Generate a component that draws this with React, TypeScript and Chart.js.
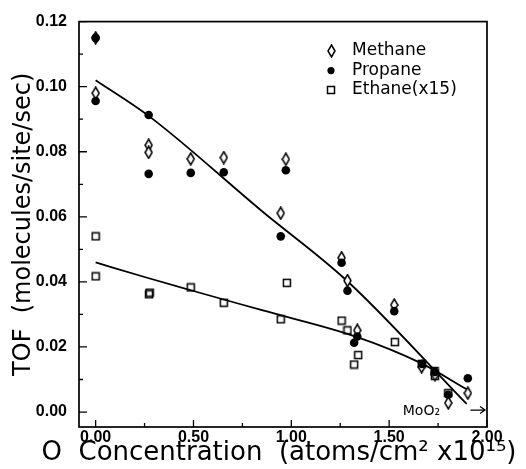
import React, { useEffect, useRef } from 'react';
import { Chart, registerables } from 'chart.js';

Chart.register(...registerables);

// ---- data ----
const methaneX = [0, 0, 0.271, 0.271, 0.486, 0.655, 0.946, 0.972, 1.257, 1.287, 1.337, 1.526, 1.666, 1.734, 1.802, 1.902];
const methaneY = [0.115, 0.098, 0.082, 0.0798, 0.0778, 0.0782, 0.0611, 0.0777, 0.0474, 0.0404, 0.0251, 0.0329, 0.0139, 0.0115, 0.0028, 0.0058];

const propaneX = [0, 0, 0.271, 0.271, 0.486, 0.655, 0.946, 0.972, 1.257, 1.287, 1.321, 1.337, 1.526, 1.668, 1.734, 1.802, 1.902];
const propaneY = [0.115, 0.0956, 0.0913, 0.0732, 0.0735, 0.0737, 0.054, 0.0743, 0.0459, 0.0373, 0.0213, 0.0232, 0.031, 0.0148, 0.0123, 0.0053, 0.0104];

const ethaneX = [0, 0, 0.273, 0.276, 0.486, 0.655, 0.946, 0.977, 1.257, 1.287, 1.321, 1.342, 1.529, 1.667, 1.732, 1.734, 1.802];
const ethaneY = [0.054, 0.0417, 0.0362, 0.0367, 0.0383, 0.0336, 0.0285, 0.0397, 0.0281, 0.0251, 0.0146, 0.0175, 0.0215, 0.0148, 0.0126, 0.0111, 0.0058];

// hand-drawn fit lines
const fitUpperX = [0, 0.276, 0.849, 1.287, 1.896];
const fitUpperY = [0.102, 0.0908, 0.0618, 0.0402, 0.0025];
const fitLowerX = [0, 0.25, 0.5, 0.85, 1.33, 1.66, 1.896];
const fitLowerY = [0.046, 0.0415, 0.0372, 0.0313, 0.0232, 0.0151, 0.007];

// axes
const xMin = -0.085;
const xMax = 2.0;
const yMin = -0.0046;
const yMax = 0.12;
const xMajorTicks = [0, 0.5, 1.0, 1.5, 2.0];
const xMinorTicks = [0.25, 0.75, 1.25, 1.75];
const yMajorTicks = [0, 0.02, 0.04, 0.06, 0.08, 0.1, 0.12];
const yMinorTicks = [0.01, 0.03, 0.05, 0.07, 0.09, 0.11];

const legendLabels = ['Methane', 'Propane', 'Ethane(x15)'];
const xTitle = 'O  Concentration  (atoms/cm² x10¹⁵)';
const yTitle = 'TOF  (molecules/site/sec)';
const noteText = 'MoO₂';
const noteX = 1.76;
const noteY = 0.0003;
const arrowX = [1.915, 1.99];
const arrowY = 0.0006;

function pts(xs: number[], ys: number[]) {
  return xs.map((x, i) => ({ x, y: ys[i] }));
}

function makeDiamond(): HTMLCanvasElement {
  const c = document.createElement('canvas');
  c.width = 9;
  c.height = 14;
  const g = c.getContext('2d')!;
  g.lineWidth = 1.5;
  g.strokeStyle = '#000';
  g.fillStyle = '#fff';
  g.beginPath();
  g.moveTo(4.5, 1);
  g.lineTo(8, 7);
  g.lineTo(4.5, 13);
  g.lineTo(1, 7);
  g.closePath();
  g.fill();
  g.stroke();
  return c;
}

function makeSquare(): HTMLCanvasElement {
  const c = document.createElement('canvas');
  c.width = 10;
  c.height = 10;
  const g = c.getContext('2d')!;
  g.lineWidth = 1.5;
  g.strokeStyle = '#000';
  g.strokeRect(1.5, 1.5, 7, 7);
  return c;
}

export default function App() {
  const ref = useRef<HTMLCanvasElement>(null);

  useEffect(() => {
    const diamond = makeDiamond();
    const square = makeSquare();

    const framePlugin = {
      id: 'frame',
      afterDatasetsDraw(chart: any) {
        const { ctx, chartArea: a, scales } = chart;
        const xs = scales.x;
        const ys = scales.y;
        ctx.save();
        ctx.strokeStyle = '#000';
        ctx.lineWidth = 1.7;
        ctx.strokeRect(a.left, a.top, a.right - a.left, a.bottom - a.top);
        ctx.lineWidth = 1.3;
        ctx.beginPath();
        xMajorTicks.forEach((v) => {
          const p = xs.getPixelForValue(v);
          ctx.moveTo(p, a.bottom);
          ctx.lineTo(p, a.bottom - 7);
        });
        xMinorTicks.forEach((v) => {
          const p = xs.getPixelForValue(v);
          ctx.moveTo(p, a.bottom);
          ctx.lineTo(p, a.bottom - 4);
        });
        yMajorTicks.forEach((v) => {
          const p = ys.getPixelForValue(v);
          ctx.moveTo(a.left, p);
          ctx.lineTo(a.left + 8, p);
        });
        yMinorTicks.forEach((v) => {
          const p = ys.getPixelForValue(v);
          ctx.moveTo(a.left, p);
          ctx.lineTo(a.left + 4, p);
        });
        ctx.stroke();

        // legend
        const mx = a.right - 156;
        const tx = a.right - 135;
        const rows = [a.top + 29, a.top + 49, a.top + 68];
        ctx.drawImage(diamond, Math.round(mx - diamond.width / 2), Math.round(rows[0] - diamond.height / 2));
        ctx.fillStyle = '#000';
        ctx.beginPath();
        ctx.arc(mx, rows[1], 3.6, 0, Math.PI * 2);
        ctx.fill();
        ctx.drawImage(square, Math.round(mx - square.width / 2), Math.round(rows[2] - square.height / 2));
        ctx.font = '17px "DejaVu Sans"';
        ctx.textBaseline = 'middle';
        ctx.textAlign = 'left';
        legendLabels.forEach((t, i) => ctx.fillText(t, tx, rows[i]));

        // MoO2 note and arrow
        ctx.font = '14px "DejaVu Sans"';
        ctx.textAlign = 'right';
        ctx.fillText(noteText, xs.getPixelForValue(noteX), ys.getPixelForValue(noteY));
        const ax0 = xs.getPixelForValue(arrowX[0]);
        const ax1 = xs.getPixelForValue(arrowX[1]);
        const ay = ys.getPixelForValue(arrowY);
        ctx.lineWidth = 1.2;
        ctx.beginPath();
        ctx.moveTo(ax0, ay);
        ctx.lineTo(ax1, ay);
        ctx.moveTo(ax1 - 5, ay - 3.5);
        ctx.lineTo(ax1, ay);
        ctx.lineTo(ax1 - 5, ay + 3.5);
        ctx.stroke();

        // x axis title (drawn here so it is not squeezed to the axis width)
        ctx.font = '26px "DejaVu Sans"';
        ctx.textAlign = 'center';
        ctx.textBaseline = 'middle';
        ctx.fillText(xTitle, (a.left + a.right) / 2 - 4, chart.height - 16);
        ctx.restore();
      },
    };

    const tickFont = { family: '"Liberation Sans", Arial, sans-serif', size: 16, weight: 'bold' as const };

    const chart = new Chart(ref.current!, {
      type: 'scatter',
      data: {
        datasets: [
          {
            label: 'Propane',
            data: pts(propaneX, propaneY),
            pointStyle: 'circle',
            pointRadius: 4.3,
            backgroundColor: '#000',
            borderWidth: 0,
            order: 0,
          },
          {
            label: 'Methane',
            data: pts(methaneX, methaneY),
            pointStyle: diamond,
            pointRadius: 5,
            order: 1,
          },
          {
            label: 'Ethane(x15)',
            data: pts(ethaneX, ethaneY),
            pointStyle: square,
            pointRadius: 5,
            order: 2,
          },
          {
            label: 'fit upper',
            data: pts(fitUpperX, fitUpperY),
            showLine: true,
            pointRadius: 0,
            borderColor: '#000',
            borderWidth: 1.8,
            cubicInterpolationMode: 'monotone',
            order: 3,
          } as any,
          {
            label: 'fit lower',
            data: pts(fitLowerX, fitLowerY),
            showLine: true,
            pointRadius: 0,
            borderColor: '#000',
            borderWidth: 1.8,
            cubicInterpolationMode: 'monotone',
            order: 3,
          } as any,
        ],
      },
      options: {
        animation: false,
        responsive: true,
        maintainAspectRatio: false,
        events: [],
        layout: { padding: { left: 0, right: 39, top: 18, bottom: 0 } },
        plugins: { legend: { display: false }, tooltip: { enabled: false } },
        scales: {
          x: {
            type: 'linear',
            min: xMin,
            max: xMax,
            border: { display: false },
            grid: { display: false, drawTicks: false },
            afterBuildTicks: (s: any) => {
              s.ticks = xMajorTicks.map((v) => ({ value: v }));
            },
            afterFit: (s: any) => {
              s.height = 42;
            },
            ticks: {
              padding: 1,
              color: '#000',
              font: tickFont,
              maxRotation: 0,
              autoSkip: false,
              callback: (v: any) => Number(v).toFixed(2),
            },
          },
          y: {
            type: 'linear',
            min: yMin,
            max: yMax,
            border: { display: false },
            grid: { display: false, drawTicks: false },
            afterBuildTicks: (s: any) => {
              s.ticks = yMajorTicks.map((v) => ({ value: v }));
            },
            afterFit: (s: any) => {
              s.width = 79;
            },
            ticks: {
              padding: 12,
              color: '#000',
              font: tickFont,
              autoSkip: false,
              callback: (v: any) => Number(v).toFixed(2),
            },
            title: {
              display: true,
              text: yTitle,
              color: '#000',
              font: { family: '"DejaVu Sans"', size: 24 },
              padding: { top: 9, bottom: 0 },
            },
          },
        },
      },
      plugins: [framePlugin],
    });
    return () => chart.destroy();
  }, []);

  return (
    <div style={{ position: 'fixed', left: 0, top: 0, width: 526, height: 469, background: '#fff' }}>
      <canvas ref={ref} style={{ display: 'block' }} />
    </div>
  );
}
